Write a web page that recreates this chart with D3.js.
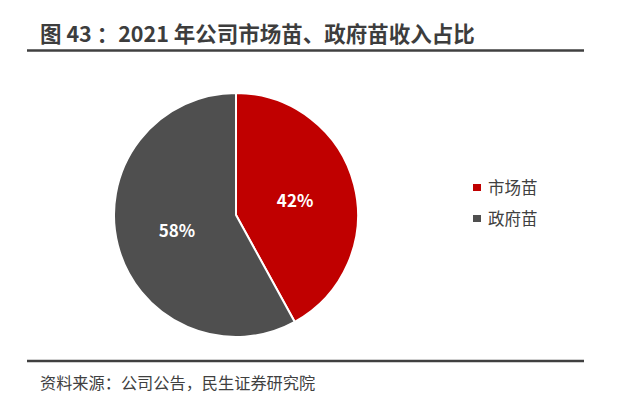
<!DOCTYPE html>
<html lang="zh">
<head>
<meta charset="UTF-8">
<script src="https://cdnjs.cloudflare.com/ajax/libs/d3/7.8.5/d3.min.js"></script>
<style>
  body { margin: 0; background: #fff; }
  text { font-family: "Noto Sans CJK SC", "Noto Sans", sans-serif; }
</style>
</head>
<body>
<script>
  var categories = ['市场苗', '政府苗'];
  var values = [42, 58];
  var colors = ['#c00000', '#4f4f4f'];

  var width = 640, height = 397;
  var svg = d3.select('body').append('svg')
      .attr('width', width).attr('height', height);

  // title + rules
  svg.append('text').attr('x', 40).attr('y', 42)
      .attr('font-size', 21.5).attr('font-weight', 'bold').attr('fill', '#3d3d3d')
      .text('图 43 ：2021 年公司市场苗、政府苗收入占比');
  svg.append('line').attr('x1', 27).attr('x2', 584).attr('y1', 50.5).attr('y2', 50.5)
      .attr('stroke', '#404040').attr('stroke-width', 2.5);
  svg.append('line').attr('x1', 27).attr('x2', 584).attr('y1', 361).attr('y2', 361)
      .attr('stroke', '#404040').attr('stroke-width', 2.5);
  svg.append('text').attr('x', 40).attr('y', 389)
      .attr('font-size', 16.2).attr('fill', '#404040')
      .text('资料来源：公司公告，民生证券研究院');

  // pie
  var r = 122;
  var pie = d3.pie().sort(null).value(function(d){ return d; });
  var arc = d3.arc().innerRadius(0).outerRadius(r);
  var labelArc = d3.arc().innerRadius(r * 0.5).outerRadius(r * 0.5);
  var g = svg.append('g').attr('transform', 'translate(236,215)');
  var arcs = pie(values);

  g.selectAll('path').data(arcs).enter().append('path')
      .attr('d', arc)
      .attr('fill', function(d, i){ return colors[i]; })
      .attr('stroke', '#fff').attr('stroke-width', 2);

  g.selectAll('text.lbl').data(arcs).enter().append('text')
      .attr('class', 'lbl')
      .attr('transform', function(d){ return 'translate(' + labelArc.centroid(d) + ')'; })
      .attr('text-anchor', 'middle').attr('dy', '0.4em')
      .attr('font-size', 17).attr('font-weight', 'bold').attr('fill', '#fff')
      .text(function(d){ return d.value + '%'; });

  // legend
  var legend = svg.selectAll('g.leg').data(categories).enter().append('g')
      .attr('class', 'leg')
      .attr('transform', function(d, i){ return 'translate(473,' + (188 + i * 31) + ')'; });
  legend.append('rect').attr('x', 0).attr('y', -4).attr('width', 8).attr('height', 7)
      .attr('fill', function(d, i){ return colors[i]; });
  legend.append('text').attr('x', 15).attr('dy', '0.35em')
      .attr('font-size', 16.5).attr('fill', '#404040')
      .text(function(d){ return d; });
</script>
</body>
</html>
